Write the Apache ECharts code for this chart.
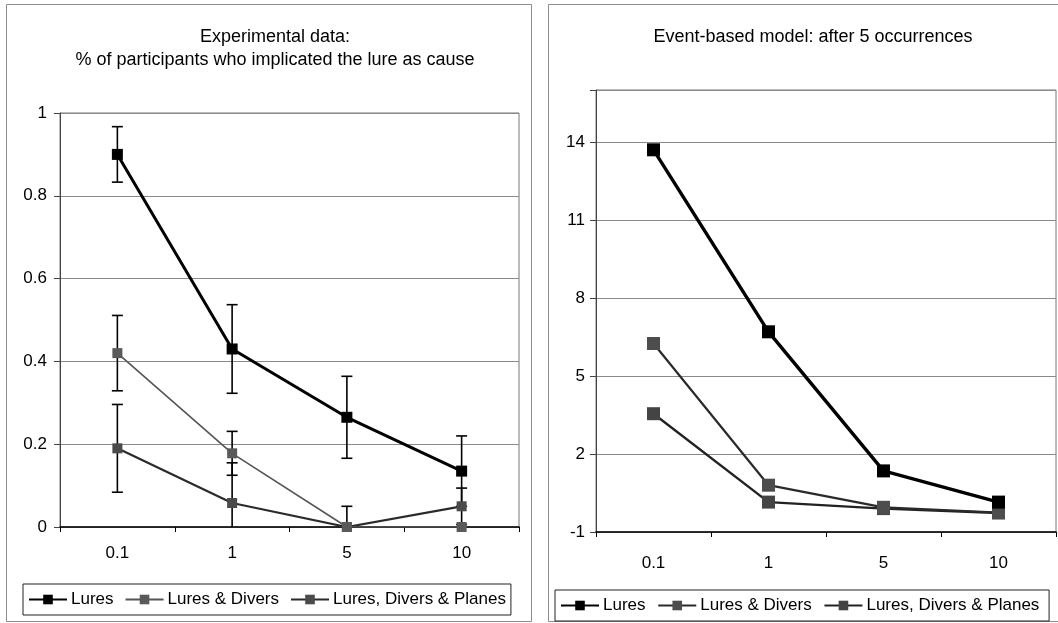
<!DOCTYPE html>
<html>
<head>
<meta charset="utf-8">
<script src="https://cdn.jsdelivr.net/npm/echarts@6/dist/echarts.min.js"></script>
<style>
  html, body { margin: 0; padding: 0; background: #fff; }
  #main { width: 1058px; height: 623px; }
</style>
</head>
<body>
<div id="main"></div>
<script>
// Category labels (shared by both panels)
const categories = ['0.1', '1', '5', '10'];
const seriesNames = ['Lures', 'Lures & Divers', 'Lures, Divers & Planes'];

// Left panel: proportion of participants implicating the lure, with error bars
const expLures = [0.90, 0.43, 0.265, 0.135];
const expLuresErr = [0.067, 0.107, 0.099, 0.085];
const expDivers = [0.42, 0.178, 0.0, 0.0];
const expDiversErr = [0.091, 0.053, 0.05, 0];
const expPlanes = [0.19, 0.058, 0.0, 0.05];
const expPlanesErr = [0.106, 0.097, 0, 0.044];

// Right panel: event-based model after 5 occurrences
const modelLures = [13.7, 6.7, 1.35, 0.15];
const modelDivers = [6.25, 0.8, -0.05, -0.25];
const modelPlanes = [3.55, 0.15, -0.1, -0.27];

// Axis ticks
const leftTicks = { min: 0, max: 1, interval: 0.2 };
const rightTicks = { min: -1, max: 16, interval: 3 };

const FONT = '"Liberation Sans", Arial, sans-serif';

function errorData(values, errs) {
  const out = [];
  values.forEach((v, i) => {
    if (errs[i] > 0) out.push([i, v, v - errs[i], v + errs[i]]);
  });
  return out;
}

function renderErrorBar(params, api) {
  const top = api.coord([api.value(0), api.value(3)]);
  const bot = api.coord([api.value(0), api.value(2)]);
  const cap = 5.5;
  const style = { stroke: '#000', lineWidth: 1.6 };
  return {
    type: 'group',
    children: [
      { type: 'line', shape: { x1: top[0], y1: top[1], x2: bot[0], y2: bot[1] }, style },
      { type: 'line', shape: { x1: top[0] - cap, y1: top[1], x2: top[0] + cap, y2: top[1] }, style },
      { type: 'line', shape: { x1: bot[0] - cap, y1: bot[1], x2: bot[0] + cap, y2: bot[1] }, style }
    ]
  };
}

const styles = [
  { line: '#000', width: 3, marker: '#000', size: 11 },
  { line: '#555', width: 1.6, marker: '#5a5a5a', size: 10 },
  { line: '#2a2a2a', width: 2.2, marker: '#4a4a4a', size: 10 }
];
const modelStyles = [
  { line: '#000', width: 3.4, marker: '#000', size: 13 },
  { line: '#2a2a2a', width: 2.2, marker: '#4d4d4d', size: 13 },
  { line: '#222', width: 2.4, marker: '#444', size: 13 }
];

function lineSeries(name, data, st, idx) {
  return {
    name, type: 'line', data,
    xAxisIndex: idx, yAxisIndex: idx,
    symbol: 'rect', symbolSize: st.size,
    lineStyle: { color: st.line, width: st.width },
    itemStyle: { color: st.marker },
    z: 3, animation: false
  };
}

function xAxis(idx, margin) {
  return {
    type: 'category', gridIndex: idx, data: categories, boundaryGap: true,
    axisLine: { show: true, onZero: false, lineStyle: { color: '#000', width: 1.5 } },
    axisTick: { show: true, length: 5, lineStyle: { color: '#000' } },
    axisLabel: { color: '#000', fontSize: 17, fontFamily: FONT, margin },
    splitLine: { show: false }
  };
}

function yAxis(idx, t, fmt, margin) {
  return {
    type: 'value', gridIndex: idx, min: t.min, max: t.max, interval: t.interval,
    axisLine: { show: true, lineStyle: { color: '#444', width: 1 } },
    axisTick: { show: true, length: 6, lineStyle: { color: '#444' } },
    axisLabel: { color: '#000', fontSize: 17, fontFamily: FONT, margin, formatter: fmt },
    splitLine: { show: true, lineStyle: { color: '#8a8a8a', width: 1 } }
  };
}

const legendCommon = {
  orient: 'horizontal',
  itemWidth: 38, itemHeight: 12, itemGap: 11,
  borderColor: '#222', borderWidth: 1,
  backgroundColor: '#fff',
  padding: [7, 5],
  textStyle: { color: '#000', fontSize: 17, fontFamily: FONT, padding: [0, 0, 0, -1] },
  selectedMode: false
};

const chart = echarts.init(document.getElementById('main'), null, { renderer: 'canvas' });

chart.setOption({
  backgroundColor: '#fff',
  animation: false,
  title: [
    {
      text: 'Experimental data:\n% of participants who implicated the lure as cause',
      left: 270, top: 21, textAlign: 'center',
      textStyle: { fontSize: 18, fontWeight: 'normal', color: '#000', fontFamily: FONT, lineHeight: 23 }
    },
    {
      text: 'Event-based model: after 5 occurrences',
      left: 808, top: 21, textAlign: 'center',
      textStyle: { fontSize: 18, fontWeight: 'normal', color: '#000', fontFamily: FONT, lineHeight: 23 }
    }
  ],
  graphic: [
    { type: 'rect', shape: { x: 6.5, y: 4.5, width: 525, height: 617 }, style: { fill: null, stroke: '#8c8c8c', lineWidth: 1 }, z: -1 },
    { type: 'rect', shape: { x: 548.5, y: 4.5, width: 530, height: 617 }, style: { fill: null, stroke: '#8c8c8c', lineWidth: 1 }, z: -1 }
  ],
  grid: [
    { left: 60, top: 113, width: 459, height: 414, show: true, borderColor: '#777', borderWidth: 1, containLabel: false },
    { left: 596, top: 90, width: 460, height: 442, show: true, borderColor: '#777', borderWidth: 1, containLabel: false }
  ],
  xAxis: [xAxis(0, 18), xAxis(1, 23)],
  yAxis: [
    yAxis(0, leftTicks, v => String(+v.toFixed(1)), 13),
    yAxis(1, rightTicks, v => (v === rightTicks.max ? '' : String(v)), 11)
  ],
  legend: [
    Object.assign({}, legendCommon, { left: 23, top: 584, width: 500, data: seriesNames.map(n => n) }),
    Object.assign({}, legendCommon, { left: 555, top: 590, width: 492, itemGap: 7, data: seriesNames.map(n => n + ' ') })
  ],
  series: [
    {
      type: 'custom', xAxisIndex: 0, yAxisIndex: 0, renderItem: renderErrorBar,
      data: errorData(expLures, expLuresErr)
        .concat(errorData(expDivers, expDiversErr))
        .concat(errorData(expPlanes, expPlanesErr)),
      clip: true, z: 2, silent: true
    },
    lineSeries(seriesNames[2], expPlanes, styles[2], 0),
    lineSeries(seriesNames[1], expDivers, styles[1], 0),
    lineSeries(seriesNames[0], expLures, styles[0], 0),
    lineSeries(seriesNames[2] + ' ', modelPlanes, modelStyles[2], 1),
    lineSeries(seriesNames[1] + ' ', modelDivers, modelStyles[1], 1),
    lineSeries(seriesNames[0] + ' ', modelLures, modelStyles[0], 1)
  ]
});
</script>
</body>
</html>
